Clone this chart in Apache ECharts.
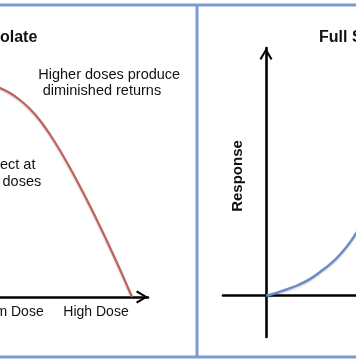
<!DOCTYPE html>
<html>
<head>
<meta charset="utf-8">
<script src="https://cdn.jsdelivr.net/npm/echarts@6/dist/echarts.min.js"></script>
<style>
html,body{margin:0;padding:0;background:#fff;}
#chart{width:356px;height:364px;}
</style>
</head>
<body>
<div id="chart"></div>
<script>
// ---- data ----
var doseTicks = [2, 3];
var doseLabels = ['Medium Dose', 'High Dose'];

var isolateDose = [1.63, 1.785, 1.89, 1.995, 2.099, 2.204, 2.309, 2.414, 2.518, 2.623, 2.728, 2.832, 2.937, 3.042, 3.147, 3.251, 3.377];
var isolateResponse = [8.50, 8.52, 8.48, 8.36, 8.16, 7.88, 7.52, 7.06, 6.50, 5.86, 5.16, 4.42, 3.64, 2.82, 1.97, 1.10, 0];

var spectrumDose = [0, 0.25, 0.5, 0.75, 1, 1.25, 1.5, 1.75, 2, 2.25];
var spectrumResponse = [0, 0.07, 0.16, 0.26, 0.39, 0.57, 0.77, 1.03, 1.36, 1.78];

var leftTitle = 'olate';
var rightTitle = 'Full Spectrum';
var yName = 'Response';
var note1 = ['Higher doses produce', 'diminished returns'];
var note2 = ['ect at', 'doses'];

// ---- build ----
function pairs(xs, ys) { return xs.map(function (x, i) { return [x, ys[i]]; }); }
var FONT = '"Liberation Sans", Arial, Helvetica, sans-serif';
var chevron = 'path://M6,0 L12,10 L10.4,11.2 L6,3.6 L1.6,11.2 L0,10 Z';
var borderColor = '#7f9bcf';
var axisLine = function (withArrow) {
  return {
    show: true,
    onZero: true,
    symbol: ['none', withArrow ? chevron : 'none'],
    symbolSize: [13, 12],
    symbolOffset: [0, -6],
    lineStyle: { color: '#000', width: 2.6 }
  };
};

var chart = echarts.init(document.getElementById('chart'), null, { renderer: 'canvas' });
chart.setOption({
  backgroundColor: '#ffffff',
  animation: false,
  grid: [
    { left: 0, right: 208, top: 47, bottom: 67, outerBoundsMode: 'none', containLabel: false },
    { left: 223, right: 0, top: 48, bottom: 27, outerBoundsMode: 'none', containLabel: false }
  ],
  xAxis: [
    {
      gridIndex: 0, type: 'value', min: 1.9948, max: 3.5445,
      axisLine: axisLine(true),
      axisTick: { show: false },
      splitLine: { show: false },
      axisLabel: {
        show: true, margin: 8, fontSize: 14, color: '#111', fontFamily: FONT,
        customValues: doseTicks,
        formatter: function (v) {
          var i = doseTicks.indexOf(Math.round(v * 100) / 100);
          return i >= 0 ? doseLabels[i] : '';
        }
      }
    },
    {
      gridIndex: 1, type: 'value', min: -1, max: 2.093,
      axisLine: axisLine(false),
      axisTick: { show: false },
      splitLine: { show: false },
      axisLabel: { show: false }
    }
  ],
  yAxis: [
    { gridIndex: 0, type: 'value', min: 0, max: 10, show: false },
    {
      gridIndex: 1, type: 'value', min: -1, max: 6,
      axisLine: axisLine(true),
      axisTick: { show: false },
      splitLine: { show: false },
      axisLabel: { show: false }
    }
  ],
  series: [
    {
      type: 'line', xAxisIndex: 0, yAxisIndex: 0,
      data: pairs(isolateDose, isolateResponse),
      smooth: 0.4, showSymbol: false, z: 3,
      lineStyle: { color: '#c0625b', width: 2.2, shadowColor: 'rgba(0,0,0,0.22)', shadowBlur: 2, shadowOffsetY: 1 }
    },
    {
      type: 'line', xAxisIndex: 1, yAxisIndex: 1,
      data: pairs(spectrumDose, spectrumResponse),
      smooth: 0.4, showSymbol: false, z: 3,
      lineStyle: { color: '#6a8bcb', width: 2.4, shadowColor: 'rgba(0,0,0,0.22)', shadowBlur: 2, shadowOffsetY: 1 }
    }
  ],
  graphic: [
    { type: 'line', shape: { x1: 0, y1: 5, x2: 356, y2: 5 }, style: { stroke: borderColor, lineWidth: 3 }, z: 10 },
    { type: 'line', shape: { x1: 0, y1: 357, x2: 356, y2: 357 }, style: { stroke: borderColor, lineWidth: 3 }, z: 10 },
    { type: 'line', shape: { x1: 197, y1: 5, x2: 197, y2: 357 }, style: { stroke: borderColor, lineWidth: 3 }, z: 10 },
    { type: 'text', x: 0, y: 37.5, style: { text: leftTitle, font: 'bold 16px ' + FONT, fill: '#111', align: 'left', verticalAlign: 'middle' } },
    { type: 'text', x: 319, y: 37.5, style: { text: rightTitle, font: 'bold 16px ' + FONT, fill: '#111', align: 'left', verticalAlign: 'middle' } },
    { type: 'text', x: 38.3, y: 75, style: { text: note1[0], font: '14.5px ' + FONT, fill: '#111', align: 'left', verticalAlign: 'middle' } },
    { type: 'text', x: 42.7, y: 90.5, style: { text: note1[1], font: '14.5px ' + FONT, fill: '#111', align: 'left', verticalAlign: 'middle' } },
    { type: 'text', x: 0, y: 165, style: { text: note2[0], font: '14.5px ' + FONT, fill: '#111', align: 'left', verticalAlign: 'middle' } },
    { type: 'text', x: 2.5, y: 181.5, style: { text: note2[1], font: '14.5px ' + FONT, fill: '#111', align: 'left', verticalAlign: 'middle' } },
    { type: 'text', x: 238, y: 176, rotation: Math.PI / 2, style: { text: yName, font: 'bold 15px ' + FONT, fill: '#111', align: 'center', verticalAlign: 'middle' } }
  ]
});
</script>
</body>
</html>
